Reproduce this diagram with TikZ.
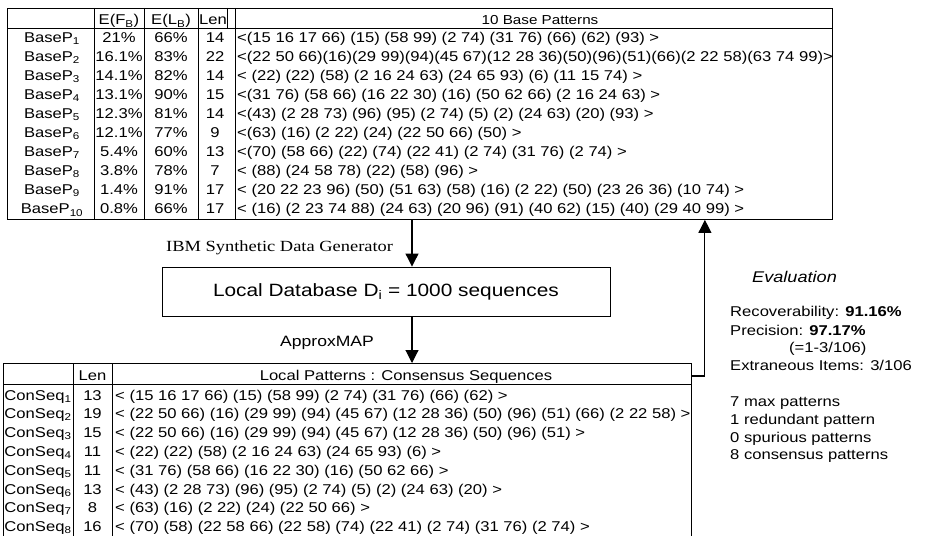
\documentclass[tikz,border=0pt]{standalone}
\usepackage{fontspec}
\setmainfont[FakeStretch=1.17]{Liberation Sans}
\newfontfamily\ibmfont[FakeStretch=1.19]{Liberation Serif}
\usetikzlibrary{arrows.meta,positioning}

\begin{document}
\begin{tikzpicture}[x=1pt,y=-1pt,font=\fontsize{14.2}{17}\selectfont,
  txt/.style={inner sep=0pt,anchor=base},
  lefttxt/.style={inner sep=0pt,anchor=base west},
  frame/.style={draw,line width=0.9pt,inner sep=0pt,anchor=north west},
  rule/.style={line width=0.6pt},
  flow/.style={line width=1.1pt,-{Triangle[width=13pt,length=13pt]}}]
  \useasboundingbox (0,0) rectangle (925,535);

  \node [frame,minimum width=825pt,minimum height=211pt] (basetab) at (7,8) {};
  \draw [rule] (7,28) -- (832,28);
  \draw [rule] (94,8) -- (94,219) (144,8) -- (144,219) (198,8) -- (198,219) (235,8) -- (235,219);
  \draw [rule] (227,8) -- (227,28);
  \node [txt] (hfb) at (119,25) {E(F\textsubscript{B})};
  \node [txt] (hlb) at (171,25) {E(L\textsubscript{B})};
  \node [txt] (hlen) at (213,25) {Len};
  \node [txt,font=\fontsize{13}{15}\selectfont] (hpat) at (540,25) {10 Base Patterns};

  \node [txt] (bp1) at (52,42) {BaseP\textsubscript{1}};
  \node [txt] (fb1) at (119,42) {21\%};
  \node [txt] (lb1) at (171,42) {66\%};
  \node [txt] (len1) at (215,42) {14};
  \node [lefttxt] (pat1) at (237,42) {<(15 16 17 66) (15) (58 99) (2 74) (31 76) (66) (62) (93) >};
  \node [txt] (bp2) at (52,61.1) {BaseP\textsubscript{2}};
  \node [txt] (fb2) at (119,61.1) {16.1\%};
  \node [txt] (lb2) at (171,61.1) {83\%};
  \node [txt] (len2) at (215,61.1) {22};
  \node [lefttxt] (pat2) at (237,61.1) {<(22 50 66)(16)(29 99)(94)(45 67)(12 28 36)(50)(96)(51)(66)(2 22 58)(63 74 99)>};
  \node [txt] (bp3) at (52,80.2) {BaseP\textsubscript{3}};
  \node [txt] (fb3) at (119,80.2) {14.1\%};
  \node [txt] (lb3) at (171,80.2) {82\%};
  \node [txt] (len3) at (215,80.2) {14};
  \node [lefttxt] (pat3) at (237,80.2) {< (22) (22) (58) (2 16 24 63) (24 65 93) (6) (11 15 74) >};
  \node [txt] (bp4) at (52,99.3) {BaseP\textsubscript{4}};
  \node [txt] (fb4) at (119,99.3) {13.1\%};
  \node [txt] (lb4) at (171,99.3) {90\%};
  \node [txt] (len4) at (215,99.3) {15};
  \node [lefttxt] (pat4) at (237,99.3) {<(31 76) (58 66) (16 22 30) (16) (50 62 66) (2 16 24 63) >};
  \node [txt] (bp5) at (52,118.4) {BaseP\textsubscript{5}};
  \node [txt] (fb5) at (119,118.4) {12.3\%};
  \node [txt] (lb5) at (171,118.4) {81\%};
  \node [txt] (len5) at (215,118.4) {14};
  \node [lefttxt] (pat5) at (237,118.4) {<(43) (2 28 73) (96) (95) (2 74) (5) (2) (24 63) (20) (93) >};
  \node [txt] (bp6) at (52,137.5) {BaseP\textsubscript{6}};
  \node [txt] (fb6) at (119,137.5) {12.1\%};
  \node [txt] (lb6) at (171,137.5) {77\%};
  \node [txt] (len6) at (215,137.5) {9};
  \node [lefttxt] (pat6) at (237,137.5) {<(63) (16) (2 22) (24) (22 50 66) (50) >};
  \node [txt] (bp7) at (52,156.6) {BaseP\textsubscript{7}};
  \node [txt] (fb7) at (119,156.6) {5.4\%};
  \node [txt] (lb7) at (171,156.6) {60\%};
  \node [txt] (len7) at (215,156.6) {13};
  \node [lefttxt] (pat7) at (237,156.6) {<(70) (58 66) (22) (74) (22 41) (2 74) (31 76) (2 74) >};
  \node [txt] (bp8) at (52,175.7) {BaseP\textsubscript{8}};
  \node [txt] (fb8) at (119,175.7) {3.8\%};
  \node [txt] (lb8) at (171,175.7) {78\%};
  \node [txt] (len8) at (215,175.7) {7};
  \node [lefttxt] (pat8) at (237,175.7) {< (88) (24 58 78) (22) (58) (96) >};
  \node [txt] (bp9) at (52,194.8) {BaseP\textsubscript{9}};
  \node [txt] (fb9) at (119,194.8) {1.4\%};
  \node [txt] (lb9) at (171,194.8) {91\%};
  \node [txt] (len9) at (215,194.8) {17};
  \node [lefttxt] (pat9) at (237,194.8) {< (20 22 23 96) (50) (51 63) (58) (16) (2 22) (50) (23 26 36) (10 74) >};
  \node [txt] (bp10) at (52,213.9) {BaseP\textsubscript{10}};
  \node [txt] (fb10) at (119,213.9) {0.8\%};
  \node [txt] (lb10) at (171,213.9) {66\%};
  \node [txt] (len10) at (215,213.9) {17};
  \node [lefttxt] (pat10) at (237,213.9) {< (16) (2 23 74 88) (24 63) (20 96) (91) (40 62) (15) (40) (29 40 99) >};

  \node [lefttxt,font=\ibmfont\fontsize{15.5}{18}\selectfont] (ibm) at (166,251) {IBM Synthetic Data Generator};
  \node [frame,anchor=center,minimum width=448pt,minimum height=49pt,font=\fontsize{17.8}{21}\selectfont] (db) at (386,291.5) {Local Database D\textsubscript{i} = 1000 sequences};
  \node [lefttxt,font=\fontsize{15}{18}\selectfont] (approx) at (280,346.7) {ApproxMAP};

  \node [frame,minimum width=688pt,minimum height=185pt] (constab) at (3,363) {};
  \draw [rule] (3,384) -- (691,384);
  \draw [rule] (73,363) -- (73,548) (112,363) -- (112,548);
  \node [txt] (clen) at (92.5,380) {Len};
  \node [txt] (cpat) at (406,380) {Local Patterns : Consensus Sequences};

  \node [txt] (cs1) at (38,400) {ConSeq\textsubscript{1}};
  \node [txt] (cl1) at (92.5,400) {13};
  \node [lefttxt] (cp1) at (115,400) {< (15 16 17 66) (15) (58 99) (2 74) (31 76) (66) (62) >};
  \node [txt] (cs2) at (38,418.8) {ConSeq\textsubscript{2}};
  \node [txt] (cl2) at (92.5,418.8) {19};
  \node [lefttxt] (cp2) at (115,418.8) {< (22 50 66) (16) (29 99) (94) (45 67) (12 28 36) (50) (96) (51) (66) (2 22 58) >};
  \node [txt] (cs3) at (38,437.6) {ConSeq\textsubscript{3}};
  \node [txt] (cl3) at (92.5,437.6) {15};
  \node [lefttxt] (cp3) at (115,437.6) {< (22 50 66) (16) (29 99) (94) (45 67) (12 28 36) (50) (96) (51) >};
  \node [txt] (cs4) at (38,456.4) {ConSeq\textsubscript{4}};
  \node [txt] (cl4) at (92.5,456.4) {11};
  \node [lefttxt] (cp4) at (115,456.4) {< (22) (22) (58) (2 16 24 63) (24 65 93) (6) >};
  \node [txt] (cs5) at (38,475.2) {ConSeq\textsubscript{5}};
  \node [txt] (cl5) at (92.5,475.2) {11};
  \node [lefttxt] (cp5) at (115,475.2) {< (31 76) (58 66) (16 22 30) (16) (50 62 66) >};
  \node [txt] (cs6) at (38,494) {ConSeq\textsubscript{6}};
  \node [txt] (cl6) at (92.5,494) {13};
  \node [lefttxt] (cp6) at (115,494) {< (43) (2 28 73) (96) (95) (2 74) (5) (2) (24 63) (20) >};
  \node [txt] (cs7) at (38,512.8) {ConSeq\textsubscript{7}};
  \node [txt] (cl7) at (92.5,512.8) {8};
  \node [lefttxt] (cp7) at (115,512.8) {< (63) (16) (2 22) (24) (22 50 66) >};
  \node [txt] (cs8) at (38,531.6) {ConSeq\textsubscript{8}};
  \node [txt] (cl8) at (92.5,531.6) {16};
  \node [lefttxt] (cp8) at (115,531.6) {< (70) (58) (22 58 66) (22 58) (74) (22 41) (2 74) (31 76) (2 74) >};

  \node [lefttxt,font=\fontsize{15.5}{18}\selectfont\itshape] (evalhd) at (752,282) {Evaluation};
  \node [lefttxt] (recov) at (730,316.7) {Recoverability: \textbf{91.16\%}};
  \node [lefttxt] (prec) at (730,335) {Precision: \textbf{97.17\%}};
  \node [lefttxt] (precdef) at (789,352.7) {(=1-3/106)};
  \node [lefttxt] (extra) at (730,370) {Extraneous Items: 3/106};
  \node [lefttxt] (nmax) at (730,406.7) {7 max patterns};
  \node [lefttxt] (nred) at (730,424.4) {1 redundant pattern};
  \node [lefttxt] (nspur) at (730,442.1) {0 spurious patterns};
  \node [lefttxt] (ncons) at (730,459.8) {8 consensus patterns};

  \draw [flow] ([xshift=26pt]db.north |- basetab.south) -- ([xshift=26pt]db.north);
  \draw [flow] ([xshift=26pt]db.south) -- ([xshift=26pt]db.south |- constab.north);
  \draw [flow] ([yshift=-13pt]constab.north east) -| ([xshift=-128pt]basetab.south east);
\end{tikzpicture}
\end{document}
